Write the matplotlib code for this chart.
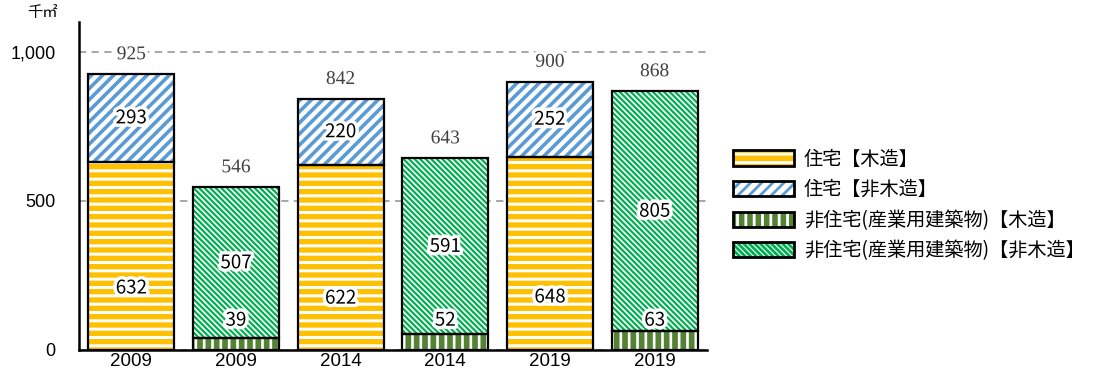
import numpy as np
import matplotlib
matplotlib.use("Agg")
import matplotlib.pyplot as plt
import matplotlib.patheffects as pe
from matplotlib.patches import Patch
from matplotlib.legend_handler import HandlerTuple

plt.rcParams['font.family'] = ['Noto Sans CJK JP', 'DejaVu Sans']
plt.rcParams['hatch.linewidth'] = 2.0

years = ['2009', '2009', '2014', '2014', '2019', '2019']
res_wood = [632, 0, 622, 0, 648, 0]
res_nonwood = [293, 0, 220, 0, 252, 0]
ind_wood = [0, 39, 0, 52, 0, 63]
ind_nonwood = [0, 507, 0, 591, 0, 805]
totals = [925, 546, 842, 643, 900, 868]

series_names = ['住宅【木造】', '住宅【非木造】',
                '非住宅(産業用建築物)【木造】', '非住宅(産業用建築物)【非木造】']
series = [res_wood, res_nonwood, ind_wood, ind_nonwood]
# (background, hatch colour, hatch, hatch width)
styles = [('#FFC000', 'white', '--', 2.2),
          ('white', '#5B9BD5', '///', 2.6),
          ('#548235', 'white', '||', 1.9),
          ('white', '#00B050', '\\' * 6, 1.6)]
# where the in-bar labels sit for the bottom segments
low_label_y = [208, 100, 174, 100, 178, 100]

fig = plt.figure(figsize=(11.04, 3.83), dpi=100)
ax = fig.add_axes([79 / 1104, 1 - 350 / 383, 628 / 1104, 328 / 383])

x = np.arange(len(years))
w = 0.82
bottom = np.zeros(len(years))
halo = [pe.withStroke(linewidth=5, foreground='white')]
for k, (vals, (bg, hc, hatch, hlw)) in enumerate(zip(series, styles)):
    vals = np.array(vals, dtype=float)
    m = vals > 0
    with plt.rc_context({'hatch.linewidth': hlw}):
        ax.bar(x[m], vals[m], w, bottom=bottom[m], color=bg, edgecolor=hc,
               hatch=hatch, linewidth=0, zorder=2)
    ax.bar(x[m], vals[m], w, bottom=bottom[m], fill=False,
           edgecolor='black', linewidth=1.6, zorder=3)
    for i in np.where(m)[0]:
        if k in (0, 2):
            y = low_label_y[i]
        else:
            y = bottom[i] + vals[i] / 2
        ax.text(x[i], y, f'{int(vals[i])}', ha='center', va='center',
                fontsize=13.5, color='black', zorder=5, path_effects=halo)
    bottom += vals

for i, t in enumerate(totals):
    ax.annotate(f'{t}', (x[i], t), xytext=(0, 14), textcoords='offset points',
                ha='center', va='center', fontsize=14, color='#404040',
                family='Liberation Serif', zorder=5, path_effects=halo)

ax.set_xlim(-0.5, len(years) - 0.5)
ax.set_ylim(0, 1100)
ax.set_yticks([0, 500, 1000])
ax.set_yticklabels(['0', '500', '1,000'], family='Liberation Sans', fontsize=13)
ax.set_xticks(x)
ax.set_xticklabels(years, family='Liberation Sans', fontsize=13.5)
ax.tick_params(axis='y', length=0, pad=17)
ax.tick_params(axis='x', length=0, pad=2)
ax.yaxis.grid(True, color='#A0A0A0', linestyle=(0, (4, 3)), linewidth=1.3, zorder=0)
ax.set_axisbelow(True)
for s in ['top', 'right']:
    ax.spines[s].set_visible(False)
ax.spines['left'].set_linewidth(1.8)
ax.spines['bottom'].set_linewidth(1.8)
ax.spines['left'].set_zorder(4)
ax.spines['bottom'].set_zorder(4)

fig.text(42 / 1104, 1 - 13 / 383, '千㎡', ha='center', va='center', fontsize=11)

handles = []
for bg, hc, hatch, hlw in styles:
    with plt.rc_context({'hatch.linewidth': hlw}):
        p1 = Patch(facecolor=bg, edgecolor=hc, hatch=hatch, linewidth=0)
    p2 = Patch(fill=False, edgecolor='black', linewidth=2)
    handles.append((p1, p2))
fig.legend(handles, series_names, loc='center left',
           bbox_to_anchor=(733 / 1104, 1 - 205 / 383), frameon=False,
           fontsize=13.8, handlelength=3.2, handleheight=0.85, handletextpad=0.5,
           labelspacing=0.5, borderpad=0, borderaxespad=0,
           handler_map={tuple: HandlerTuple(ndivide=1, pad=0)})

fig.savefig('out.png', dpi=100)
